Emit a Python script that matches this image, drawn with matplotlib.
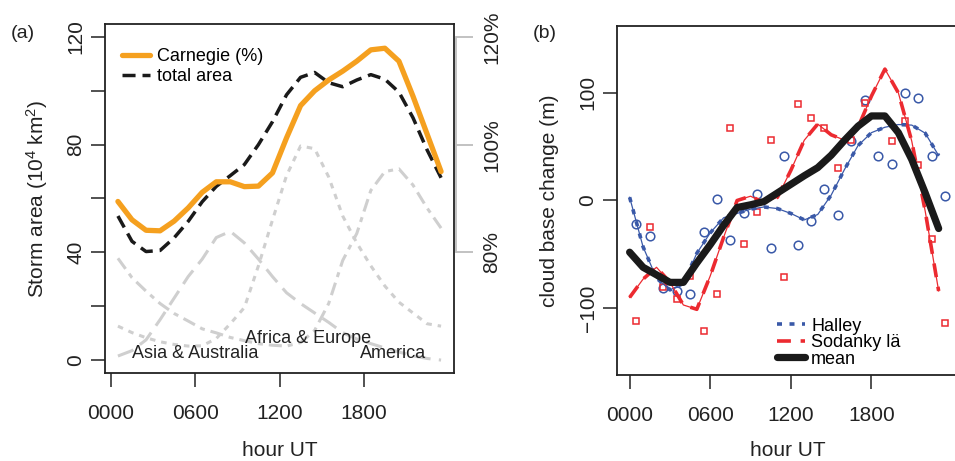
import numpy as np
import matplotlib
matplotlib.use("Agg")
import matplotlib.pyplot as plt

plt.rcParams["font.family"] = ["Liberation Sans", "DejaVu Sans"]
plt.rcParams["mathtext.fontset"] = "custom"
plt.rcParams["mathtext.rm"] = "Liberation Sans"
plt.rcParams["mathtext.it"] = "Liberation Sans:italic"
plt.rcParams["lines.scale_dashes"] = False

# ---------------- panel (a): storm area and Carnegie curve ----------------
hours_area = np.arange(0.5, 24.0, 1.0)

carnegie = [58.9, 52.1, 48.2, 48.0, 51.6, 56.5, 62.3, 66.2, 66.2, 64.4, 64.6, 69.5,
            82.5, 94.5, 100.0, 104.0, 107.3, 111.0, 115.2, 115.8, 111.0, 98.0, 84.0, 70.0]
total_area = [53.5, 44.1, 40.3, 40.7, 45.4, 51.5, 58.8, 64.5, 68.5, 72.6, 80.0, 88.5,
              98.5, 105.0, 106.8, 103.0, 101.5, 104.0, 106.0, 104.3, 99.5, 90.0, 78.1, 67.7]
asia_australia = [1.5, 3.5, 7.5, 15.0, 23.0, 31.0, 37.5, 45.5, 47.8, 43.5, 37.5, 31.0,
                  25.0, 21.0, 17.5, 14.0, 10.2, 7.8, 6.1, 4.5, 3.0, 1.6, 0.6, 0.0]
africa_europe = [12.6, 10.2, 8.3, 6.8, 5.8, 5.2, 5.3, 8.0, 13.5, 19.5, 35.0, 52.0,
                 68.5, 79.5, 78.5, 68.0, 53.5, 43.5, 35.0, 27.5, 21.5, 17.5, 13.5, 12.6]
america = [37.8, 30.6, 25.6, 21.0, 17.3, 14.5, 11.6, 10.1, 8.4, 7.2, 6.1, 5.5,
           5.2, 6.5, 11.0, 21.0, 37.0, 47.0, 63.0, 70.0, 71.0, 65.0, 56.5, 49.0]

hour_ticks = [0, 6, 12, 18]
hour_labels = ["0000", "0600", "1200", "1800"]
area_ticks = [0, 20, 40, 60, 80, 100, 120]
area_labels = ["0", "", "40", "", "80", "", "120"]
pct_ticks = [40, 80, 120]
pct_labels = ["80%", "100%", "120%"]

# ---------------- panel (b): cloud base change ----------------
hours_pts = np.arange(0.5, 24.0, 1.0)
hours_fit = np.arange(0, 24, 1)

halley_pts = [-22.2, -33.3, -80.9, -83.9, -86.4, -29.6, 1.2, -36.4, -11.7, 6.2, -44.1, 41.7,
              -41.0, -19.4, 10.8, -13.9, 55.0, 93.5, 41.7, 33.9, 99.7, 94.8, 41.7, 4.3]
sodankyla_pts = [-112.0, -24.7, -80.2, -91.7, -70.4, -120.7, -87.0, 67.0, -40.1, -10.8, 56.5, -71.0,
                 89.5, 76.5, 67.3, 30.2, 56.2, 90.4, np.nan, 54.9, 74.1, 33.0, -35.8, -113.9]

halley_fit = [3, -43, -72, -83, -77, -49, -30, -16, -12, -8, -6, -7.5,
              -12, -18, -13, 5, 29, 51, 63, 68, 70.5, 70, 62.5, 41.7]
sodankyla_fit = [-90, -73, -62, -76, -97, -101, -70, -34, 0, 4, -2, 3,
                 28, 56, 71, 61, 56, 68, 97, 122, 100, 55, -10, -84]
mean_fit = [-48, -62, -69, -76, -76, -58, -41, -23, -6.5, -4, -1, 7,
            15, 23, 30.5, 42, 56, 69, 78.5, 78.5, 63, 38, 7, -26]

cbc_ticks = [-100, 0, 100]
cbc_labels = ["\u2212100", "0", "100"]

# ---------------- styling ----------------
ORANGE = "#F5A01F"
GRAY = "#CFCFCF"
AXGRAY = "#BDBDBD"
INK = "#222222"
BLUE = "#3A59A8"
RED = "#EC2A30"
BLACK = "#1A1A1A"

W, H = 955, 461
fig = plt.figure(figsize=(W / 100, H / 100), dpi=100)


def frame(l, t, r, b):
    return [l / W, 1 - b / H, (r - l) / W, (b - t) / H]


def style_box(ax):
    for s in ax.spines.values():
        s.set_color(INK)
        s.set_linewidth(1.3)
    ax.tick_params(direction="out", length=10, width=1.1, color=INK,
                   labelsize=15, labelcolor=INK)
    ax.tick_params(axis="x", pad=12)
    ax.tick_params(axis="y", pad=4, labelrotation=90)
    for lbl in ax.get_yticklabels():
        lbl.set_va("center")


# ---- (a) ----
axL = fig.add_axes(frame(105, 24, 454, 373))
axL.plot(hours_area, asia_australia, color=GRAY, lw=2.2, dashes=(12, 6))
axL.plot(hours_area, africa_europe, color=GRAY, lw=2.2, dashes=(4, 4.3))
axL.plot(hours_area, america, color=GRAY, lw=2.2, dashes=(9.4, 4.3, 3.6, 4.3))
h_total, = axL.plot(hours_area, total_area, color=BLACK, lw=2.5, dashes=(9.4, 5),
                    label="total area")
h_carn, = axL.plot(hours_area, carnegie, color=ORANGE, lw=3.8,
                   solid_capstyle="round", solid_joinstyle="round",
                   label="Carnegie (%)")

axL.set_xlim(-0.42, 24.42)
axL.set_ylim(-4.8, 124.8)
axL.set_xticks(hour_ticks)
axL.set_xticklabels(hour_labels)
axL.set_yticks(area_ticks)
axL.set_yticklabels(area_labels)
style_box(axL)
axL.set_xlabel("hour UT", fontsize=15, color=INK, va="center")
axL.xaxis.set_label_coords(0.5, -0.221)
axL.set_ylabel("Storm area (10$^4$ km$^2$)", fontsize=15, color=INK, va="center")
axL.yaxis.set_label_coords(-0.195, 0.5)

axL.text(6, 0.6, "Asia & Australia", ha="center", va="baseline", fontsize=13, color=INK)
axL.text(14, 6.3, "Africa & Europe", ha="center", va="baseline", fontsize=13, color=INK)
axL.text(20.1, 0.6, "America", ha="center", va="baseline", fontsize=13, color=INK)

axL.legend(handles=[h_carn, h_total], loc="upper left", bbox_to_anchor=(0.049, 0.93),
           frameon=False, fontsize=13, handlelength=1.55, handletextpad=0.4,
           labelspacing=0.15, borderpad=0, borderaxespad=0)

# Carnegie percentage scale on the right
axP = axL.twinx()
axP.set_ylim(axL.get_ylim())
axP.set_yticks(pct_ticks)
axP.set_yticklabels(pct_labels)
for name in ("top", "bottom", "left"):
    axP.spines[name].set_visible(False)
axP.spines["right"].set_bounds(40, 120)
axP.spines["right"].set_color(AXGRAY)
axP.spines["right"].set_linewidth(1.3)
axP.spines["right"].set_position(("outward", 1.5))
axP.tick_params(axis="y", direction="out", length=12, width=1.3, color=AXGRAY,
                labelsize=15, labelcolor=INK, pad=7, labelrotation=90)
for tick in axP.yaxis.get_major_ticks():
    tick.label2.set_va("center")

fig.text(23 / W, 1 - 33 / H, "(a)", fontsize=14, ha="center", va="center", color=INK)

# ---- (b) ----
axR = fig.add_axes(frame(617, 26, 958, 375))
axR.plot(hours_pts, halley_pts, "o", mfc="none", mec=BLUE, ms=6.2, mew=1.1)
axR.plot(hours_pts, sodankyla_pts, "s", mfc="none", mec=RED, ms=5.0, mew=1.1)
axR.plot(hours_fit, halley_fit, color=BLUE, lw=0.9)
h_hal, = axR.plot(hours_fit, halley_fit, color=BLUE, lw=2.6, dashes=(3.6, 5.4),
                  label="Halley")
axR.plot(hours_fit, sodankyla_fit, color=RED, lw=0.9)
h_sod, = axR.plot(hours_fit, sodankyla_fit, color=RED, lw=2.6, dashes=(10, 7),
                  label="Sodanky l\u00e4")
h_mean, = axR.plot(hours_fit, mean_fit, color=BLACK, lw=5.2,
                   solid_capstyle="round", solid_joinstyle="round", label="mean")

axR.set_xlim(-0.94, 24.44)
axR.set_ylim(-162, 162)
axR.set_xticks(hour_ticks)
axR.set_xticklabels(hour_labels)
axR.set_yticks(cbc_ticks)
axR.set_yticklabels(cbc_labels)
style_box(axR)
axR.set_xlabel("hour UT", fontsize=15, color=INK, va="center")
axR.xaxis.set_label_coords(0.5, -0.215)
axR.set_ylabel("cloud base change (m)", fontsize=15, color=INK, va="center")
axR.yaxis.set_label_coords(-0.1965, 0.5)

axR.legend(handles=[h_hal, h_sod, h_mean], loc="upper left", bbox_to_anchor=(0.469, 0.164),
           frameon=False, fontsize=13, handlelength=1.55, handletextpad=0.35,
           labelspacing=-0.03, borderpad=0, borderaxespad=0)

fig.text(545 / W, 1 - 33 / H, "(b)", fontsize=14, ha="center", va="center", color=INK)

fig.savefig("out.png", dpi=100)
